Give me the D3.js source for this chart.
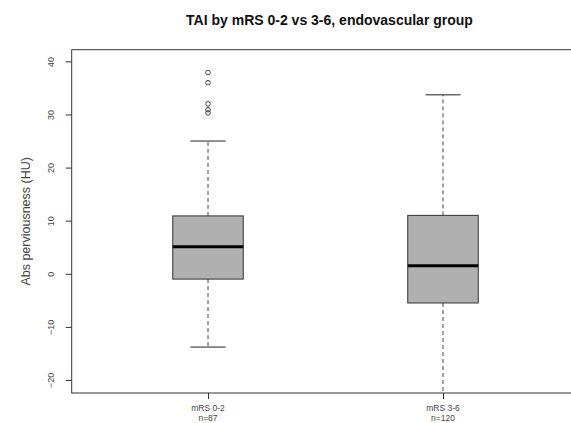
<!DOCTYPE html>
<html>
<head>
<meta charset="utf-8">
<script src="https://cdn.jsdelivr.net/npm/d3@7"></script>
<style>
  body { margin: 0; background: #fff; }
  text { font-family: "Liberation Sans", Arial, sans-serif; }
</style>
</head>
<body>
<div id="chart"></div>
<script>
// data
const groups = ["mRS 0-2", "mRS 3-6"];
const counts = [87, 120];
const lowerWhisker = [-13.8, -26.0];   // second one runs off the bottom of the plot
const q1 = [-1.0, -5.5];
const median = [5.1, 1.5];
const q3 = [10.9, 11.0];
const upperWhisker = [25.0, 33.7];
const outliers = [[37.9, 36.0, 32.0, 30.9, 30.3], []];
const yTicks = [-20, -10, 0, 10, 20, 30, 40];

const width = 571, height = 423;

const svg = d3.select("#chart").append("svg")
    .attr("width", width)
    .attr("height", height);

// R style: xlim = range(at) +/- 0.5, then 4% extension
const x = d3.scaleLinear().domain([0.42, 2.58]).range([71.7, 579.3]);
const y = d3.scaleLinear().domain([-22.45, 42.2]).range([393, 49.7]);

const boxW = x(1.15) - x(0.85);
const capW = boxW / 2;

// plot frame
svg.append("rect")
    .attr("x", x(0.42))
    .attr("y", y(42.2))
    .attr("width", x(2.58) - x(0.42))
    .attr("height", y(-22.45) - y(42.2))
    .attr("fill", "none")
    .attr("stroke", "#333")
    .attr("stroke-width", 1);

const stats = groups.map((g, i) => ({
    name: g, n: counts[i], pos: i + 1,
    lo: lowerWhisker[i], q1: q1[i], med: median[i], q3: q3[i], hi: upperWhisker[i],
    out: outliers[i]
}));

svg.append("clipPath").attr("id", "plotclip")
    .append("rect")
    .attr("x", x(0.42)).attr("y", y(42.2))
    .attr("width", x(2.58) - x(0.42)).attr("height", y(-22.45) - y(42.2));

const plot = svg.append("g").attr("clip-path", "url(#plotclip)");

const box = plot.selectAll("g.box")
    .data(stats)
    .join("g")
    .attr("class", "box");

// whiskers
box.append("line")
    .attr("x1", d => x(d.pos)).attr("x2", d => x(d.pos))
    .attr("y1", d => y(d.q3)).attr("y2", d => y(d.hi))
    .attr("stroke", "#444").attr("stroke-dasharray", "4,3");
box.append("line")
    .attr("x1", d => x(d.pos)).attr("x2", d => x(d.pos))
    .attr("y1", d => y(d.q1)).attr("y2", d => y(d.lo))
    .attr("stroke", "#444").attr("stroke-dasharray", "4,3");

// caps
box.append("line")
    .attr("x1", d => x(d.pos) - capW / 2).attr("x2", d => x(d.pos) + capW / 2)
    .attr("y1", d => y(d.hi)).attr("y2", d => y(d.hi))
    .attr("stroke", "#222");
box.append("line")
    .attr("x1", d => x(d.pos) - capW / 2).attr("x2", d => x(d.pos) + capW / 2)
    .attr("y1", d => y(d.lo)).attr("y2", d => y(d.lo))
    .attr("stroke", "#222");

// box
box.append("rect")
    .attr("x", d => x(d.pos) - boxW / 2)
    .attr("y", d => y(d.q3))
    .attr("width", boxW)
    .attr("height", d => y(d.q1) - y(d.q3))
    .attr("fill", "#b0b0b0")
    .attr("stroke", "#333")
    .attr("stroke-width", 1);

// median
box.append("line")
    .attr("x1", d => x(d.pos) - boxW / 2).attr("x2", d => x(d.pos) + boxW / 2)
    .attr("y1", d => y(d.med)).attr("y2", d => y(d.med))
    .attr("stroke", "#000").attr("stroke-width", 3);

// outliers
box.selectAll("circle")
    .data(d => d.out.map(v => ({ pos: d.pos, v })))
    .join("circle")
    .attr("cx", d => x(d.pos))
    .attr("cy", d => y(d.v))
    .attr("r", 2.3)
    .attr("fill", "none")
    .attr("stroke", "#333")
    .attr("stroke-width", 0.9);

// y axis
const yAxis = svg.append("g")
    .attr("transform", `translate(${x(0.42)},0)`)
    .call(d3.axisLeft(y).tickValues(yTicks).tickSize(6).tickSizeOuter(0));
yAxis.select(".domain").remove();
yAxis.selectAll(".tick line").attr("stroke", "#333");
yAxis.selectAll(".tick text")
    .attr("fill", "#444")
    .style("font-size", "9px")
    .attr("text-anchor", "middle")
    .attr("transform", "rotate(-90)")
    .attr("x", 0)
    .attr("y", -21)
    .attr("dy", "0.32em");

// x axis
const xAxis = svg.append("g")
    .attr("transform", `translate(0,${y(-22.45)})`)
    .call(d3.axisBottom(x).tickValues([1, 2]).tickSize(6).tickFormat(""));
xAxis.select(".domain").remove();
xAxis.selectAll(".tick line").attr("stroke", "#333");

const xl = svg.selectAll("text.xlab")
    .data(stats)
    .join("text")
    .attr("class", "xlab")
    .attr("x", d => x(d.pos))
    .attr("y", 411)
    .attr("text-anchor", "middle")
    .attr("fill", "#444")
    .style("font-size", "8.5px");
xl.append("tspan").attr("x", d => x(d.pos)).text(d => d.name);
xl.append("tspan").attr("x", d => x(d.pos)).attr("dy", 9.5).text(d => "n=" + d.n);

// y label
svg.append("text")
    .attr("transform", `translate(30,${(y(42.2) + y(-22.45)) / 2}) rotate(-90)`)
    .attr("text-anchor", "middle")
    .attr("fill", "#444")
    .style("font-size", "12.5px")
    .text("Abs perviousness (HU)");

// title
svg.append("text")
    .attr("x", (x(0.42) + x(2.58)) / 2 + 4)
    .attr("y", 25)
    .attr("text-anchor", "middle")
    .attr("fill", "#111")
    .style("font-size", "14px")
    .style("font-weight", "bold")
    .text("TAI by mRS 0-2 vs 3-6, endovascular group");
</script>
</body>
</html>
